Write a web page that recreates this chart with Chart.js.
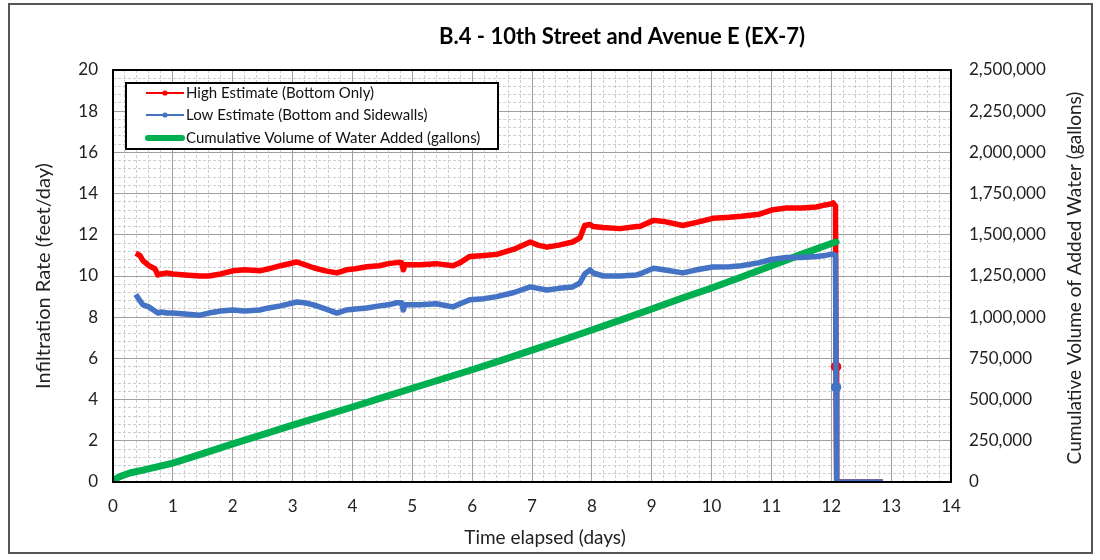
<!DOCTYPE html>
<html>
<head>
<meta charset="utf-8">
<script src="https://cdn.jsdelivr.net/npm/chart.js@4"></script>
<style>
  html, body { margin: 0; padding: 0; background: #ffffff; }
  #wrap { position: relative; width: 1100px; height: 560px; }
</style>
</head>
<body>
<div id="wrap"><canvas id="c" width="1100" height="560"></canvas></div>
<script>
// ---------- DATA ----------
const chartTitle = 'B.4 - 10th Street and Avenue E (EX-7)';
const xTitle = 'Time elapsed (days)';
const yLeftTitle = 'Infiltration Rate (feet/day)';
const yRightTitle = 'Cumulative Volume of Added Water (gallons)';
const seriesNames = ['High Estimate (Bottom Only)', 'Low Estimate (Bottom and Sidewalls)', 'Cumulative Volume of Water Added (gallons)'];

const days = [0.38,0.45,0.5,0.6,0.7,0.75,0.8,0.9,1.0,1.2,1.45,1.6,1.8,2.0,2.2,2.45,2.6,2.8,3.07,3.2,3.35,3.55,3.74,3.9,4.05,4.24,4.45,4.6,4.74,4.82,4.85,4.88,5.0,5.13,5.4,5.68,5.8,5.96,6.2,6.41,6.7,6.97,7.1,7.25,7.45,7.68,7.8,7.88,7.97,8.02,8.19,8.47,8.75,8.8,9.03,9.2,9.52,9.75,10.02,10.3,10.5,10.8,11.0,11.25,11.5,11.75,11.9,12.0,12.03,12.07,12.08,12.09,12.3,12.5,12.7,12.86];
const highRate = [11.1,11.0,10.75,10.5,10.35,10.05,10.1,10.15,10.1,10.05,10.0,10.0,10.1,10.25,10.3,10.25,10.35,10.5,10.68,10.55,10.4,10.25,10.15,10.3,10.35,10.45,10.5,10.6,10.65,10.65,10.3,10.55,10.55,10.55,10.6,10.5,10.65,10.95,11.0,11.05,11.3,11.65,11.5,11.4,11.5,11.65,11.85,12.45,12.5,12.4,12.35,12.3,12.4,12.4,12.7,12.65,12.45,12.6,12.8,12.85,12.9,13.0,13.2,13.3,13.3,13.35,13.45,13.5,13.55,13.4,5.6,0,0,0,0,0];
const lowRate = [9.1,8.8,8.6,8.5,8.3,8.2,8.25,8.2,8.2,8.15,8.1,8.2,8.3,8.35,8.3,8.35,8.45,8.55,8.74,8.7,8.6,8.4,8.2,8.35,8.4,8.45,8.55,8.6,8.7,8.7,8.35,8.6,8.6,8.6,8.65,8.5,8.65,8.85,8.9,9.0,9.2,9.47,9.4,9.32,9.4,9.47,9.66,10.1,10.3,10.15,10.0,10.0,10.05,10.1,10.38,10.3,10.15,10.3,10.44,10.45,10.5,10.65,10.8,10.9,10.9,10.95,11.0,11.05,11.05,11.0,4.6,0,0,0,0,0];

const volDays = [0,0.05,0.1,0.2,0.3,0.5,0.75,1,1.5,2,2.5,3,3.5,4,4.5,5,5.5,6,6.5,7,7.5,8,8.5,9,9.5,10,10.5,11,11.5,12,12.08];
const volGallons = [0,18750,31250,43750,56250,72500,93750,115000,172500,231250,287500,345000,400000,455000,512500,568750,625000,681250,740000,800000,860000,922500,985000,1050000,1115000,1177500,1243750,1312500,1381250,1447500,1456250];

const xRange = [0, 14];
const yLeftRange = [0, 20];
const yRightRange = [0, 2500000];
const xMajor = 1, xMinor = 0.2;
const yMajor = 2, yMinor = 0.4;
const yRightStep = 250000;

// ---------- STYLE ----------
const FONT = 'Lato, "Open Sans", "Noto Sans", sans-serif';
const RED = '#ff0000', BLUE = '#4472c4', GREEN = '#00b050';
const isMult = (v, m) => Math.abs(v / m - Math.round(v / m)) < 1e-6;

const highPts = days.map((d, i) => ({x: d, y: highRate[i]}));
const lowPts = days.map((d, i) => ({x: d, y: lowRate[i]}));
const volPts = volDays.map((d, i) => ({x: d, y: volGallons[i]}));
const dropIdx = days.indexOf(12.08);

const decor = {
  id: 'decor',
  afterDraw(chart) {
    const ctx = chart.ctx;
    const a = chart.chartArea;
    ctx.save();
    // plot border
    ctx.strokeStyle = '#000';
    ctx.lineWidth = 2;
    ctx.strokeRect(a.left, a.top, a.right - a.left, a.bottom - a.top);
    // outer frame
    ctx.strokeStyle = '#555';
    ctx.lineWidth = 2;
    ctx.strokeRect(9, 4, 1083, 549);
    // title
    ctx.fillStyle = '#000';
    ctx.font = 'bold 22px ' + FONT;
    ctx.textAlign = 'center';
    ctx.textBaseline = 'middle';
    ctx.fillText(chartTitle, 622, 37);
    // x axis title
    ctx.font = '19px ' + FONT;
    ctx.fillStyle = '#222';
    ctx.fillText(xTitle, 545, 538);
    // right axis title (reads bottom to top)
    ctx.save();
    ctx.translate(1075, 278);
    ctx.rotate(-Math.PI / 2);
    ctx.font = '19px ' + FONT;
    ctx.fillStyle = '#222';
    ctx.fillText(yRightTitle, 0, 0);
    ctx.restore();
    // legend
    const lx = 126, ly = 83, lw = 372, lh = 66;
    ctx.fillStyle = '#fff';
    ctx.fillRect(lx, ly, lw, lh);
    ctx.strokeStyle = '#000';
    ctx.lineWidth = 2;
    ctx.strokeRect(lx, ly, lw, lh);
    const rows = [93, 115, 138];
    const cols = [RED, BLUE, GREEN];
    ctx.textAlign = 'left';
    ctx.font = '15px ' + FONT;
    rows.forEach((ry, i) => {
      ctx.strokeStyle = cols[i];
      ctx.lineWidth = i === 2 ? 6 : 2;
      ctx.lineCap = i === 2 ? 'round' : 'butt';
      ctx.beginPath();
      ctx.moveTo(i === 2 ? 148 : 146, ry);
      ctx.lineTo(i === 2 ? 182 : 184, ry);
      ctx.stroke();
      if (i < 2) {
        ctx.fillStyle = cols[i];
        ctx.beginPath();
        ctx.arc(165, ry, 2.6, 0, Math.PI * 2);
        ctx.fill();
      }
      ctx.fillStyle = '#111';
      ctx.fillText(seriesNames[i], 186, ry);
    });
    ctx.restore();
  }
};

new Chart(document.getElementById('c'), {
  type: 'scatter',
  data: {
    datasets: [
      {
        label: seriesNames[0], data: highPts, showLine: true, yAxisID: 'y',
        borderColor: RED, backgroundColor: RED, borderWidth: 5.5,
        pointRadius: ctx => ctx.dataIndex === dropIdx ? 2.5 : 0,
        pointHoverRadius: 0, order: 3, borderJoinStyle: 'round'
      },
      {
        label: seriesNames[1], data: lowPts, showLine: true, yAxisID: 'y',
        borderColor: BLUE, backgroundColor: BLUE, borderWidth: 5.5,
        pointRadius: ctx => ctx.dataIndex === dropIdx ? 2.5 : 0,
        pointHoverRadius: 0, order: 1, borderJoinStyle: 'round'
      },
      {
        label: seriesNames[2], data: volPts, showLine: true, yAxisID: 'y2',
        borderColor: GREEN, backgroundColor: GREEN, borderWidth: 7,
        pointRadius: 0, pointHoverRadius: 0, order: 2, borderCapStyle: 'round'
      }
    ]
  },
  options: {
    responsive: false,
    animation: false,
    events: [],
    layout: { padding: { top: 70, left: 0, right: 0, bottom: 0 } },
    plugins: { legend: { display: false }, title: { display: false }, tooltip: { enabled: false } },
    scales: {
      x: {
        type: 'linear', position: 'bottom',
        min: xRange[0], max: xRange[1],
        afterFit: s => { s.height = 78; },
        ticks: {
          stepSize: xMinor, autoSkip: false, maxRotation: 0, padding: 14,
          color: '#222', font: { family: FONT, size: 17 },
          callback: v => isMult(v, xMajor) ? String(Math.round(v)) : ''
        },
        grid: {
          drawTicks: false,
          color: c => isMult(c.tick.value, xMajor) ? '#a0a0a0' : '#cfcfcf',
          lineWidth: 1
        },
        border: { display: false, dash: c => (c.tick && isMult(c.tick.value, xMajor)) ? [] : [3, 2] },
        title: { display: false }
      },
      y: {
        type: 'linear', position: 'left',
        min: yLeftRange[0], max: yLeftRange[1],
        afterFit: s => { s.width = 113; },
        ticks: {
          stepSize: yMinor, autoSkip: false, padding: 15,
          color: '#222', font: { family: FONT, size: 17 },
          callback: v => isMult(v, yMajor) ? String(Math.round(v)) : ''
        },
        grid: {
          drawTicks: false,
          color: c => isMult(c.tick.value, yMajor) ? '#a0a0a0' : '#cfcfcf',
          lineWidth: 1
        },
        border: { display: false, dash: c => (c.tick && isMult(c.tick.value, yMajor)) ? [] : [3, 2] },
        title: { display: true, text: yLeftTitle, color: '#222', font: { family: FONT, size: 20 }, padding: { top: 32, bottom: 0 } }
      },
      y2: {
        type: 'linear', position: 'right',
        min: yRightRange[0], max: yRightRange[1],
        afterFit: s => { s.width = 149; },
        ticks: {
          stepSize: yRightStep, autoSkip: false, padding: 18,
          color: '#222', font: { family: FONT, size: 17 },
          callback: v => Number(v).toLocaleString('en-US')
        },
        grid: { drawOnChartArea: false, drawTicks: false },
        border: { display: false }
      }
    }
  },
  plugins: [decor]
});
</script>
</body>
</html>
